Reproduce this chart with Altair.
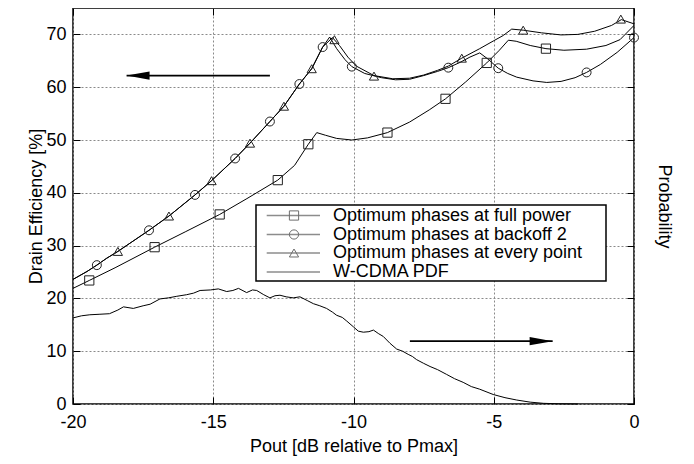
import altair as alt
import pandas as pd

# ---------------- data ----------------
# Optimum phases at full power (squares)
full_x = [-20, -19.42, -18.5, -17.09, -16.0, -14.77, -13.8, -12.70, -12.1, -11.61, -11.31, -11.0, -10.6,
          -10.06, -9.5, -8.79, -8.0, -7.3, -6.72, -6.0, -5.25, -4.8, -4.48, -4.2, -3.7, -3.14, -2.5, -1.69,
          -1.0, -0.5, 0]
full_y = [21.9, 23.4, 25.8, 29.7, 32.6, 35.9, 38.9, 42.4, 45.2, 49.2, 51.4, 50.9, 50.3,
          50.0, 50.4, 51.4, 53.4, 55.7, 57.8, 61.0, 64.6, 67.0, 68.9, 68.7, 67.9, 67.3, 67.0, 67.2,
          67.9, 69.0, 71.7]
full_mx = [-19.42, -17.09, -14.77, -12.70, -11.61, -8.79, -6.72, -5.25, -3.14]
full_my = [23.4, 29.7, 35.9, 42.4, 49.2, 51.4, 57.8, 64.6, 67.3]

# shared low-power part of the two upper curves
low_x = [-20, -19.5, -19.15, -18.8, -18.4, -17.9, -17.29, -16.58, -15.65, -15.06, -14.22, -13.69,
         -12.98, -12.48, -11.93, -11.49, -11.10]
low_y = [23.6, 25.1, 26.3, 27.6, 28.9, 30.7, 32.9, 35.6, 39.6, 42.3, 46.5, 49.4,
         53.5, 56.4, 60.6, 63.5, 67.6]

# Optimum phases at backoff 2 (circles)
back_x = low_x + [-10.85, -10.6, -10.3, -10.06, -9.6, -9.0, -8.5, -8.0, -7.5, -7.0, -6.62, -6.2,
                  -5.85, -5.5, -5.2, -4.84, -4.5, -4.18, -3.6, -3.11, -2.6, -2.1, -1.69, -1.2, -0.6, 0]
back_y = low_y + [69.5, 67.3, 65.2, 63.9, 62.6, 61.8, 61.4, 61.5, 62.2, 63.0, 63.7, 64.7,
                  65.7, 66.5, 65.3, 63.6, 62.6, 61.9, 61.2, 60.9, 61.1, 61.8, 62.8, 64.3, 66.6, 69.4]
back_mx = [-19.15, -17.29, -15.65, -14.22, -12.98, -11.93, -11.10, -10.06, -6.62, -4.84, -1.69, 0]
back_my = [26.3, 32.9, 39.6, 46.5, 53.5, 60.6, 67.6, 63.9, 63.7, 63.6, 62.8, 69.4]

# Optimum phases at every point (triangles)
every_x = low_x + [-10.75, -10.5, -10.2, -9.9, -9.27, -8.6, -8.0, -7.5, -7.0, -6.62, -6.14, -5.5,
                   -5.0, -4.66, -4.36, -3.95, -3.3, -2.6, -2.0, -1.4, -0.8, -0.45, 0]
every_y = low_y + [69.4, 67.9, 65.7, 64.0, 62.2, 61.6, 61.7, 62.3, 63.2, 64.0, 65.5, 67.3,
                   68.8, 69.8, 71.0, 70.8, 70.3, 69.9, 70.0, 70.6, 71.7, 72.8, 72.0]
every_mx = [-18.4, -16.58, -15.06, -13.69, -12.48, -11.49, -10.68, -9.27, -6.14, -3.95, -0.47]
every_my = [28.9, 35.6, 42.3, 49.4, 56.4, 63.5, 69.0, 62.1, 65.5, 70.8, 72.9]

# W-CDMA PDF (right axis, drawn on the same frame)
pdf_x = [-20, -19.7, -19.4, -19.04, -18.7, -18.4, -18.2, -17.85, -17.5, -17.25, -16.9, -16.6, -16.3,
         -15.95, -15.7, -15.47, -15.1, -14.82, -14.52, -14.3, -14.1, -13.81, -13.6, -13.45, -13.2,
         -12.98, -12.8, -12.62, -12.4, -12.15, -11.91, -11.65, -11.43, -11.2, -10.96, -10.75, -10.6,
         -10.4, -10.24, -10.0, -9.83, -9.65, -9.45, -9.29, -9.1, -8.94, -8.7, -8.46, -8.25, -8.05,
         -7.9, -7.75, -7.5, -7.27, -7.0, -6.68, -6.4, -6.09, -5.8, -5.5, -5.02, -4.6, -4.18, -3.7,
         -3.23, -2.7, -2.0]
pdf_y = [16.3, 16.7, 16.9, 17.0, 17.1, 17.8, 18.4, 18.1, 18.6, 18.9, 19.9, 20.1, 20.4,
         20.7, 21.0, 21.5, 21.6, 21.8, 21.3, 21.5, 21.9, 21.1, 21.6, 21.5, 20.7,
         20.1, 20.5, 20.6, 20.3, 20.1, 20.3, 19.6, 19.0, 18.6, 18.1, 17.4, 16.8,
         16.4, 15.7, 14.6, 13.8, 13.6, 13.7, 14.0, 13.3, 12.8, 11.5, 10.4, 10.0, 9.4,
         9.0, 8.4, 7.7, 7.1, 6.5, 5.6, 4.8, 4.1, 3.3, 2.8, 1.8, 1.2, 0.75, 0.35,
         0.13, 0.04, 0.0]

# annotation arrows (data units)
arrow_start = [-12.98, -7.99]
arrow_tip = [-18.09, -2.90]
arrow_y = [62.2, 11.9]

x_ticks = [-20, -15, -10, -5, 0]
y_ticks = [0, 10, 20, 30, 40, 50, 60, 70]

legend_labels = ["Optimum phases at full power", "Optimum phases at backoff 2",
                 "Optimum phases at every point", "W-CDMA PDF"]
legend_shapes = ["square", "circle", "triangle-up", ""]

# ---------------- chart ----------------
FONT = "Liberation Sans"
xs = alt.Scale(domain=[-20, 0], nice=False, zero=False)
ys = alt.Scale(domain=[0, 75], nice=False, zero=False)


def df(x, y):
    return pd.DataFrame({"x": x, "y": y})


def plain(data):
    return alt.Chart(data)


ax_x_main = alt.Axis(values=x_ticks, grid=True, gridDash=[2, 2], gridColor="#8a8a8a", gridWidth=1,
                     ticks=False, tickSize=0, domain=False, labelFontSize=18, labelPadding=9,
                     labelFlush=False, labelOverlap=False,
                     labelColor="black", labelExpr="datum.value + ''",
                     title="Pout [dB relative to Pmax]", titleFontSize=18, titleFontWeight="normal",
                     titleColor="black", titlePadding=6)
ax_y_main = alt.Axis(values=y_ticks, grid=True, gridDash=[2, 2], gridColor="#8a8a8a", gridWidth=1,
                     ticks=False, tickSize=0, domain=False, labelFontSize=18, labelPadding=7,
                     labelFlush=False, labelOverlap=False,
                     labelColor="black", labelExpr="datum.value + ''",
                     title="Drain Efficiency [%]", titleFontSize=18, titleFontWeight="normal",
                     titleColor="black", titlePadding=0)

base = plain(df(full_x, full_y)).mark_line(color="black", strokeWidth=1).encode(
    x=alt.X("x:Q", scale=xs, axis=ax_x_main),
    y=alt.Y("y:Q", scale=ys, axis=ax_y_main),
)


def tick_axis(orient, values, title="", title_pad=0):
    return alt.Axis(orient=orient, offset=-7, values=values, labels=False, ticks=True, tickSize=7,
                    tickColor="black", tickWidth=1, domain=False, grid=False, title=title,
                    titleFontSize=18, titleFontWeight="normal", titleColor="black",
                    titlePadding=title_pad)


ticks_bl = plain(df(full_x, full_y)).mark_point(opacity=0).encode(
    x=alt.X("x:Q", scale=xs, axis=tick_axis("bottom", x_ticks)),
    y=alt.Y("y:Q", scale=ys, axis=tick_axis("left", y_ticks)),
)
ticks_tr = plain(df(full_x, full_y)).mark_point(opacity=0).encode(
    x=alt.X("x:Q", scale=xs, axis=tick_axis("top", x_ticks)),
    y=alt.Y("y:Q", scale=ys, axis=tick_axis("right", y_ticks, "Probability", 20)),
)


def curve(x, y):
    return plain(df(x, y)).mark_line(color="black", strokeWidth=1).encode(
        x=alt.X("x:Q", scale=xs, axis=None), y=alt.Y("y:Q", scale=ys, axis=None))


def markers(x, y, shape, size):
    return plain(df(x, y)).mark_point(shape=shape, filled=False, color="#222", strokeWidth=1,
                                      size=size, opacity=1).encode(
        x=alt.X("x:Q", scale=xs, axis=None), y=alt.Y("y:Q", scale=ys, axis=None))


arrows = pd.DataFrame({"x0": arrow_start, "x1": arrow_tip, "y": arrow_y})
arrow_lines = plain(arrows).mark_rule(color="black", strokeWidth=1.6).encode(
    x=alt.X("x0:Q", scale=xs, axis=None), x2="x1:Q", y=alt.Y("y:Q", scale=ys, axis=None))
head_left = plain(arrows.iloc[[0]]).mark_point(
    shape="M0,0L2,-0.36L2,0.36Z", filled=True, color="black", size=529, opacity=1).encode(
    x=alt.X("x1:Q", scale=xs, axis=None), y=alt.Y("y:Q", scale=ys, axis=None))
head_right = plain(arrows.iloc[[1]]).mark_point(
    shape="M0,0L-2,-0.36L-2,0.36Z", filled=True, color="black", size=529, opacity=1).encode(
    x=alt.X("x1:Q", scale=xs, axis=None), y=alt.Y("y:Q", scale=ys, axis=None))

# legend (drawn by hand inside the plot)
one = pd.DataFrame({"a": [0]})
legend_layers = [
    plain(one).mark_rect(fill="white", stroke="black", strokeWidth=1.5).encode(
        x=alt.value(183), x2=alt.value(533), y=alt.value(197), y2=alt.value(273))
]
row_y = [207.5, 226.5, 245, 264]
for lab, shp, ry in zip(legend_labels, legend_shapes, row_y):
    legend_layers.append(plain(one).mark_rule(color="#8c8c8c", strokeWidth=1.5).encode(
        x=alt.value(193.7), x2=alt.value(247), y=alt.value(ry)))
    if shp:
        legend_layers.append(plain(one).mark_point(shape=shp, filled=False, color="#6e6e6e",
                                                   strokeWidth=1, size=85, opacity=1).encode(
            x=alt.value(221), y=alt.value(ry)))
    legend_layers.append(plain(pd.DataFrame({"label": [lab]})).mark_text(
        align="left", baseline="middle", fontSize=18, font=FONT, color="black").encode(
        x=alt.value(260), y=alt.value(ry), text="label:N"))

chart = alt.layer(
    base, ticks_bl, ticks_tr,
    curve(back_x, back_y), curve(every_x, every_y), curve(pdf_x, pdf_y),
    markers(full_mx, full_my, "square", 85),
    markers(back_mx, back_my, "circle", 80),
    markers(every_mx, every_my, "triangle-up", 85),
    arrow_lines, head_left, head_right,
    *legend_layers,
).resolve_axis(x="independent", y="independent").properties(
    width=561, height=396,
    autosize=alt.AutoSizeParams(type="none"),
    padding={"left": 65, "top": 0, "right": 52, "bottom": 52},
).configure(font=FONT, background="white").configure_view(stroke="black", strokeWidth=1.5)

chart.save("out.html", embed_options={"renderer": "svg", "actions": False})
